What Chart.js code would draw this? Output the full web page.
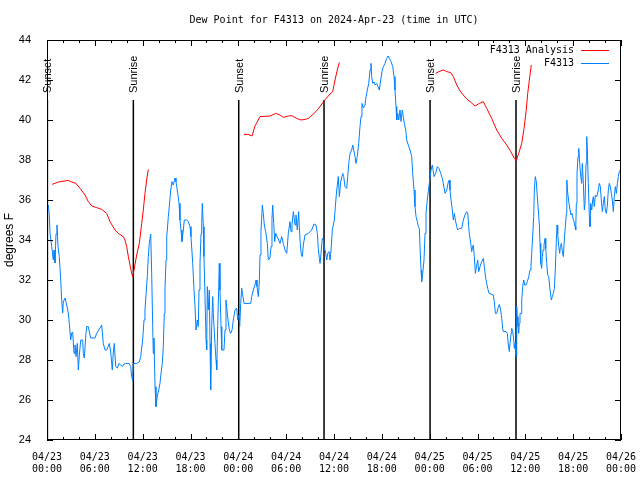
<!DOCTYPE html>
<html>
<head>
<meta charset="utf-8">
<script src="https://cdn.jsdelivr.net/npm/chart.js@4"></script>
<style>
  html, body { margin: 0; padding: 0; background: #fff; }
  #wrap { width: 640px; height: 480px; }
</style>
</head>
<body>
<div id="wrap"><canvas id="dewChart" width="640" height="480"></canvas></div>
<script>
// hours since 04/23 00:00 UTC
const obsHours = [
  0.00, 0.16, 0.29, 0.38, 0.59, 0.79, 0.88, 1.00, 1.13, 1.25, 1.38, 1.54, 1.72, 1.84, 1.97, 2.04, 2.26, 2.47, 2.67, 2.80,
  2.97, 3.10, 3.22, 3.39, 3.51, 3.64, 3.80, 3.93, 4.05, 4.23, 4.48, 4.55, 4.68, 4.89, 4.98, 5.18, 5.31, 5.48, 6.02, 6.23,
  6.65, 6.86, 7.06, 7.28, 7.49, 7.82, 7.99, 8.19, 8.32, 8.44, 8.62, 8.82, 9.03, 9.25, 9.45, 9.66, 9.87, 10.29, 10.50, 10.62,
  10.75, 10.83, 11.25, 11.58, 11.75, 11.88, 12.00, 12.17, 12.29, 12.42, 12.58, 12.71, 12.83, 13.01, 13.13, 13.26, 13.33, 13.42, 13.55, 13.67,
  13.84, 14.01, 14.17, 14.30, 14.46, 14.59, 14.71, 14.80, 14.93, 15.02, 15.09, 15.22, 15.34, 15.52, 15.68, 15.84, 16.06, 16.18, 16.27, 16.40,
  16.56, 16.68, 16.81, 16.93, 17.10, 17.22, 17.52, 17.72, 17.94, 18.06, 18.28, 18.44, 18.57, 18.69, 18.85, 18.98, 19.07, 19.19, 19.32, 19.41,
  19.48, 19.61, 19.69, 19.82, 19.95, 20.03, 20.11, 20.23, 20.36, 20.45, 20.53, 20.66, 20.79, 20.86, 21.07, 21.20, 21.29, 21.41, 21.54, 21.61,
  21.70, 21.83, 21.92, 22.20, 22.33, 22.45, 22.58, 22.71, 22.87, 23.04, 23.21, 23.37, 23.58, 23.80, 23.92, 24.08, 24.17, 24.30, 24.42, 24.55,
  24.71, 25.55, 25.68, 25.88, 26.09, 26.22, 26.34, 26.51, 26.63, 26.72, 26.84, 27.01, 27.13, 27.26, 27.43, 27.64, 27.76, 27.97, 28.10, 28.22,
  28.31, 28.44, 28.56, 28.69, 28.85, 29.07, 29.23, 29.44, 29.64, 29.86, 30.07, 30.27, 30.48, 30.61, 30.73, 30.90, 31.11, 31.23, 31.40, 31.57,
  31.65, 31.77, 31.90, 32.03, 32.15, 32.36, 32.78, 33.20, 33.49, 33.74, 33.91, 34.03, 34.16, 34.25, 34.37, 34.53, 34.66, 34.78, 34.96, 35.09,
  35.21, 35.37, 35.50, 35.63, 35.79, 36.04, 36.17, 36.34, 36.42, 36.54, 36.67, 36.84, 37.09, 37.22, 37.38, 37.59, 37.72, 37.85, 38.01, 38.22,
  38.35, 38.47, 38.64, 38.76, 38.92, 39.10, 39.26, 39.39, 39.51, 39.68, 39.89, 40.02, 40.18, 40.36, 40.52, 40.64, 40.73, 40.86, 41.02, 41.18,
  41.36, 41.52, 41.68, 41.86, 42.02, 42.19, 42.40, 42.61, 42.78, 42.94, 43.15, 43.37, 43.53, 43.65, 43.78, 43.87, 43.99, 44.12, 44.28, 44.41,
  44.57, 44.69, 44.82, 45.00, 45.12, 45.32, 45.54, 45.75, 45.87, 46.04, 46.16, 46.29, 46.45, 46.58, 46.70, 46.79, 46.92, 47.00, 47.13, 47.29,
  47.42, 47.54, 47.70, 47.95, 48.17, 48.33, 48.55, 48.76, 48.96, 49.17, 49.39, 49.59, 49.71, 49.93, 50.14, 50.34, 50.47, 50.55, 50.68, 50.84,
  50.97, 51.10, 51.22, 51.40, 51.52, 51.72, 52.02, 52.22, 52.43, 52.65, 52.77, 52.90, 52.97, 53.15, 53.27, 53.40, 53.48, 53.60, 53.73, 53.90,
  54.03, 54.15, 54.32, 54.53, 54.73, 54.86, 55.03, 55.16, 55.28, 55.45, 55.70, 55.98, 56.11, 56.24, 56.41, 56.57, 56.74, 56.91, 57.04, 57.16,
  57.24, 57.58, 57.74, 57.87, 57.99, 58.08, 58.21, 58.29, 58.42, 58.54, 58.62, 58.71, 58.79, 58.87, 58.92, 58.99, 59.08, 59.17, 59.25, 59.33,
  59.46, 59.55, 59.67, 59.80, 59.92, 60.09, 60.25, 60.43, 60.59, 60.71, 60.80, 60.93, 61.05, 61.13, 61.25, 61.38, 61.50, 61.63, 61.76, 61.84,
  61.93, 62.05, 62.13, 62.22, 62.34, 62.47, 62.56, 62.68, 62.81, 62.93, 63.10, 63.26, 63.39, 63.51, 63.64, 63.76, 63.89, 63.98, 64.06, 64.19,
  64.31, 64.39, 64.52, 64.64, 64.77, 64.89, 65.02, 65.15, 65.20, 65.32, 65.48, 65.61, 65.73, 65.86, 65.98, 66.11, 66.23, 66.32, 66.40, 66.48,
  66.61, 66.70, 66.82, 66.95, 67.07, 67.15, 67.28, 67.40, 67.49, 67.61, 67.70, 67.78, 67.90, 68.03, 68.11, 68.20, 68.33, 68.45, 68.53, 68.65,
  68.78, 68.96, 69.16, 69.28, 69.41, 69.53, 69.66, 69.78, 69.91, 70.03, 70.16, 70.28, 70.41, 70.53, 70.66, 70.79, 70.91, 71.04, 71.16, 71.29,
  71.42, 71.54, 71.67, 71.79, 71.88
];
const obsDewpoint = [
  35.8, 35.75, 35.25, 34.35, 33.67, 33.0, 33.5, 32.85, 34.3, 34.75, 33.7, 33.17, 32.0, 31.0, 30.35, 30.9, 31.1, 30.75, 30.35, 29.83,
  29.0, 29.35, 29.4, 28.33, 28.75, 28.17, 28.83, 27.5, 28.2, 29.0, 29.0, 28.33, 28.1, 29.33, 29.67, 29.67, 29.4, 29.1, 29.1, 29.33,
  29.6, 29.75, 28.83, 28.5, 28.5, 28.83, 28.4, 27.5, 28.4, 28.83, 27.67, 27.6, 27.83, 27.75, 27.67, 27.8, 27.83, 27.83, 27.67, 27.17,
  26.95, 27.83, 27.83, 27.9, 28.17, 28.6, 29.0, 30.0, 30.5, 31.25, 32.17, 33.17, 33.83, 34.3, 32.33, 29.67, 28.33, 29.1, 26.67, 25.67,
  26.2, 26.5, 26.83, 27.33, 27.83, 28.67, 30.33, 31.6, 33.0, 34.2, 34.5, 35.17, 35.67, 36.5, 36.92, 36.75, 37.1, 36.92, 36.67, 36.33,
  35.83, 35.0, 34.5, 33.92, 34.5, 35.0, 35.0, 34.92, 34.67, 34.17, 32.83, 31.5, 30.67, 29.5, 30.0, 29.67, 31.5, 32.83, 34.3, 34.83,
  35.83, 34.67, 33.17, 31.17, 29.0, 28.5, 31.67, 30.5, 31.5, 28.83, 26.5, 29.67, 31.17, 30.33, 28.83, 28.0, 27.5, 29.67, 31.67, 32.83,
  31.5, 29.67, 28.5, 28.5, 29.5, 31.0, 30.5, 30.0, 29.5, 29.33, 29.5, 30.0, 30.5, 30.6, 30.0, 30.25, 29.67, 30.83, 31.6, 31.25,
  30.83, 30.83, 31.17, 31.5, 31.75, 32.0, 31.67, 31.17, 31.9, 33.25, 34.42, 35.75, 35.33, 34.75, 34.42, 33.83, 33.0, 33.1, 33.67, 35.08,
  35.75, 34.83, 33.92, 34.33, 34.17, 34.0, 33.83, 34.17, 33.83, 33.5, 33.33, 34.33, 34.92, 34.42, 34.75, 35.42, 34.75, 35.25, 34.5, 35.42,
  34.67, 33.83, 33.25, 33.17, 33.75, 34.25, 34.33, 34.5, 34.8, 34.75, 34.33, 33.58, 33.08, 32.83, 33.33, 34.08, 34.0, 33.67, 33.33, 33.0,
  33.33, 33.42, 33.0, 33.5, 34.5, 35.0, 35.67, 36.5, 36.75, 37.17, 36.17, 36.9, 37.33, 37.17, 36.67, 36.58, 37.17, 37.83, 38.33, 38.5,
  38.75, 38.5, 38.17, 37.83, 38.17, 38.83, 39.67, 40.17, 40.83, 40.6, 40.75, 41.17, 41.5, 41.83, 42.5, 42.83, 42.17, 41.83, 41.9, 41.75,
  41.83, 41.67, 41.5, 42.0, 42.42, 42.67, 42.83, 43.08, 43.2, 43.08, 42.92, 42.67, 42.17, 41.5, 40.67, 40.0, 40.33, 40.0, 40.5, 39.92,
  40.5, 40.17, 39.83, 39.5, 39.0, 38.75, 38.5, 38.17, 37.33, 36.5, 35.67, 35.17, 34.92, 34.67, 34.58, 33.67, 32.5, 31.92, 32.33, 33.0,
  34.33, 35.33, 36.0, 36.83, 37.5, 37.75, 37.17, 37.33, 37.67, 37.58, 37.33, 37.08, 36.83, 36.33, 36.5, 36.9, 37.0, 36.5, 36.0, 35.5,
  35.0, 35.33, 35.0, 34.67, 34.5, 34.58, 34.58, 35.0, 35.25, 35.42, 35.37, 34.67, 34.33, 33.83, 33.42, 33.67, 33.75, 33.17, 32.33, 32.75,
  33.0, 32.42, 32.67, 32.92, 33.08, 32.67, 32.08, 31.83, 31.58, 31.33, 31.3, 31.25, 30.92, 30.33, 30.33, 30.58, 30.78, 30.5, 30.08, 29.58,
  29.42, 29.42, 29.33, 28.75, 28.42, 28.83, 29.33, 29.58, 29.42, 29.0, 28.58, 28.83, 28.33, 28.17, 30.67, 30.17, 29.67, 29.33, 29.83, 30.33,
  30.33, 31.0, 31.67, 32.0, 31.75, 31.75, 31.92, 32.17, 32.5, 32.75, 33.33, 34.25, 35.17, 36.5, 37.17, 36.92, 36.17, 35.5, 34.75, 33.83,
  32.83, 32.58, 33.17, 33.5, 33.75, 34.08, 33.58, 32.83, 32.25, 32.17, 31.5, 31.0, 31.17, 31.33, 31.58, 32.5, 34.0, 34.75, 34.33, 33.67,
  33.33, 33.67, 33.83, 33.42, 33.17, 34.0, 34.67, 35.33, 37.0, 36.33, 35.83, 35.5, 35.25, 35.33, 35.08, 34.92, 34.67, 34.5, 35.83, 37.33,
  38.17, 38.58, 37.83, 37.17, 36.83, 37.83, 36.83, 35.5, 35.83, 37.83, 39.17, 38.5, 36.83, 35.17, 34.67, 35.83, 35.5, 36.0, 36.17, 35.67,
  36.25, 36.17, 36.5, 36.83, 36.67, 36.0, 35.42, 35.83, 36.17, 35.5, 35.33, 35.67, 36.5, 36.83, 36.67, 36.33, 36.0, 35.42, 36.17, 36.67,
  36.33, 36.83, 37.17, 37.42, 37.5
];

// analysis runs, null = gap between runs
const analysisHours = [
  0.66, 1.42, 2.67, 3.10, 3.64, 4.14, 4.77, 5.18, 5.61, 6.23, 6.86, 7.49, 7.90, 8.53, 8.94, 9.57, 9.78, 10.00, 10.20, 10.41,
  10.62, 10.75, 10.91, 11.25, 11.58, 11.88, 12.08, 12.29, 12.50, 12.71, 18.0,
  24.71, 25.21, 25.72, 26.09, 26.72, 27.97, 28.69, 29.23, 29.64, 30.27, 30.69, 31.32, 31.86, 32.36, 32.78, 33.40, 34.03, 34.78, 35.50, 35.84,
  36.13, 36.41, 36.67, 42.0,
  48.75, 49.16, 49.71, 50.14, 50.64, 50.97, 51.40, 51.81, 52.22, 52.65, 53.06, 53.69, 54.23, 54.73, 55.16, 55.78, 56.41, 57.04, 57.67, 58.17,
  58.62, 58.87, 59.17, 59.55, 59.84, 60.09, 60.30, 60.50, 60.75
];
const analysisDewpoint = [
  36.78, 36.9, 36.98, 36.9, 36.83, 36.58, 36.25, 35.92, 35.7, 35.62, 35.53, 35.33, 34.92, 34.5, 34.33, 34.17, 34.0, 33.67, 33.17, 32.75,
  32.33, 32.17, 32.5, 33.25, 33.83, 34.83, 35.5, 36.33, 37.0, 37.53, null,
  39.28, 39.28, 39.2, 39.7, 40.17, 40.2, 40.33, 40.25, 40.13, 40.2, 40.22, 40.08, 40.0, 40.03, 40.08, 40.3, 40.55, 40.97, 41.3, 41.42,
  42.0, 42.5, 42.88, null,
  42.33, 42.42, 42.5, 42.42, 42.37, 42.17, 41.75, 41.45, 41.25, 41.05, 40.92, 40.7, 40.83, 40.92, 40.58, 40.08, 39.5, 39.08, 38.75, 38.42,
  38.08, 37.97, 38.33, 38.83, 39.58, 40.42, 41.33, 42.0, 42.75
];

const sunHours = [0.05, 10.83, 24.05, 34.75, 48.05, 58.83];
const sunLabels = ['Sunset', 'Sunrise', 'Sunset', 'Sunrise', 'Sunset', 'Sunrise'];
const sunLineTop = 41;

const yMin = 24, yMax = 44, yStep = 2;
const xMin = 0, xMax = 72, xStep = 2, xLabelEvery = 6;
const startDay = 23;

const MONO = '"DejaVu Sans Mono", monospace';
const SANS = '"Liberation Sans", Arial, sans-serif';
const RED = '#ff0000';
const BLUE = '#0080ff';

const obsPoints = obsHours.map((h, i) => ({ x: h, y: obsDewpoint[i] }));
const analysisPoints = analysisHours.map((h, i) => ({ x: h, y: analysisDewpoint[i] }));
const sunPoints = [];
sunHours.forEach(h => {
    sunPoints.push({ x: h, y: yMin }, { x: h, y: sunLineTop }, { x: h, y: null });
});

function pad2(n) { return (n < 10 ? '0' : '') + n; }

// gnuplot style frame: box border, inward ticks on all sides, sun labels, legend
const gnuFrame = {
    id: 'gnuFrame',
    afterDatasetsDraw(chart) {
        const ctx = chart.ctx;
        const a = chart.chartArea;
        const xs = chart.scales.x, ys = chart.scales.y;
        ctx.save();
        ctx.strokeStyle = '#000';
        ctx.lineWidth = 1;
        ctx.strokeRect(Math.round(a.left) + 0.5, Math.round(a.top) + 0.5,
            Math.round(a.right - a.left) - 1, Math.round(a.bottom - a.top) - 1);
        ctx.beginPath();
        for (let v = xMin; v <= xMax; v += xStep) {
            const px = Math.round(xs.getPixelForValue(v)) + 0.5;
            const len = v % xLabelEvery === 0 ? 6 : 3;
            ctx.moveTo(px, a.bottom); ctx.lineTo(px, a.bottom - len);
            ctx.moveTo(px, a.top); ctx.lineTo(px, a.top + len);
        }
        for (let v = yMin; v <= yMax; v += yStep) {
            const py = Math.round(ys.getPixelForValue(v)) + 0.5;
            ctx.moveTo(a.left, py); ctx.lineTo(a.left + 6, py);
            ctx.moveTo(a.right, py); ctx.lineTo(a.right - 6, py);
        }
        ctx.stroke();

        // sunrise / sunset labels
        ctx.fillStyle = '#000';
        ctx.font = '11px ' + SANS;
        ctx.textAlign = 'left';
        ctx.textBaseline = 'middle';
        sunHours.forEach((h, i) => {
            const px = xs.getPixelForValue(h) + 1;
            const py = ys.getPixelForValue(sunLineTop) - 7;
            ctx.save();
            ctx.translate(px, py);
            ctx.rotate(-Math.PI / 2);
            ctx.fillText(sunLabels[i], 0, 0);
            ctx.restore();
        });

        // legend
        const items = [['F4313 Analysis', RED], ['F4313', BLUE]];
        ctx.font = '10px ' + MONO;
        ctx.textAlign = 'right';
        items.forEach((it, i) => {
            const y = a.top + 10 + i * 13;
            ctx.fillStyle = '#000';
            ctx.fillText(it[0], a.right - 47, y);
            ctx.strokeStyle = it[1];
            ctx.beginPath();
            ctx.moveTo(a.right - 40, y + 0.5);
            ctx.lineTo(a.right - 12, y + 0.5);
            ctx.stroke();
        });
        ctx.restore();
    }
};

new Chart(document.getElementById('dewChart'), {
    type: 'line',
    data: {
        datasets: [
            {
                label: 'F4313 Analysis',
                data: analysisPoints,
                borderColor: RED,
                borderWidth: 1,
                pointRadius: 0,
                spanGaps: false,
                tension: 0,
            },
            {
                label: 'F4313',
                data: obsPoints,
                borderColor: BLUE,
                borderWidth: 1,
                pointRadius: 0,
                tension: 0,
            },
            {
                label: 'sun',
                data: sunPoints,
                borderColor: '#000',
                borderWidth: 1.5,
                pointRadius: 0,
                spanGaps: false,
            },
        ],
    },
    options: {
        responsive: false,
        animation: false,
        events: [],
        layout: { padding: { left: 0, right: 19, top: 0, bottom: 0 } },
        plugins: {
            legend: { display: false },
            tooltip: { enabled: false },
            title: {
                display: true,
                fullSize: false,
                text: 'Dew Point for F4313 on 2024-Apr-23 (time in UTC)',
                color: '#000',
                font: { family: MONO, size: 10, weight: 'normal', lineHeight: 1.2 },
                padding: { top: 14, bottom: 14 },
            },
        },
        scales: {
            x: {
                type: 'linear',
                min: xMin,
                max: xMax,
                grid: { display: false },
                border: { display: false },
                afterFit: s => { s.height = 40; s.paddingLeft = 0; s.paddingRight = 0; },
                ticks: {
                    stepSize: xStep,
                    autoSkip: false,
                    maxRotation: 0,
                    padding: 3,
                    color: '#000',
                    font: { family: MONO, size: 10, lineHeight: 1.25 },
                    callback: v => {
                        if (v % xLabelEvery !== 0) return '';
                        const day = startDay + Math.floor(v / 24);
                        return ['04/' + pad2(day), pad2(v % 24) + ':00'];
                    },
                },
            },
            y: {
                min: yMin,
                max: yMax,
                grid: { display: false },
                border: { display: false },
                afterFit: s => { s.width = 47; },
                title: {
                    display: true,
                    text: 'degrees F',
                    color: '#000',
                    font: { family: SANS, size: 12 },
                    padding: { top: 2, bottom: 2 },
                },
                ticks: {
                    stepSize: yStep,
                    padding: 8,
                    color: '#000',
                    font: { family: SANS, size: 11 },
                },
            },
        },
    },
    plugins: [gnuFrame],
});
</script>
</body>
</html>
